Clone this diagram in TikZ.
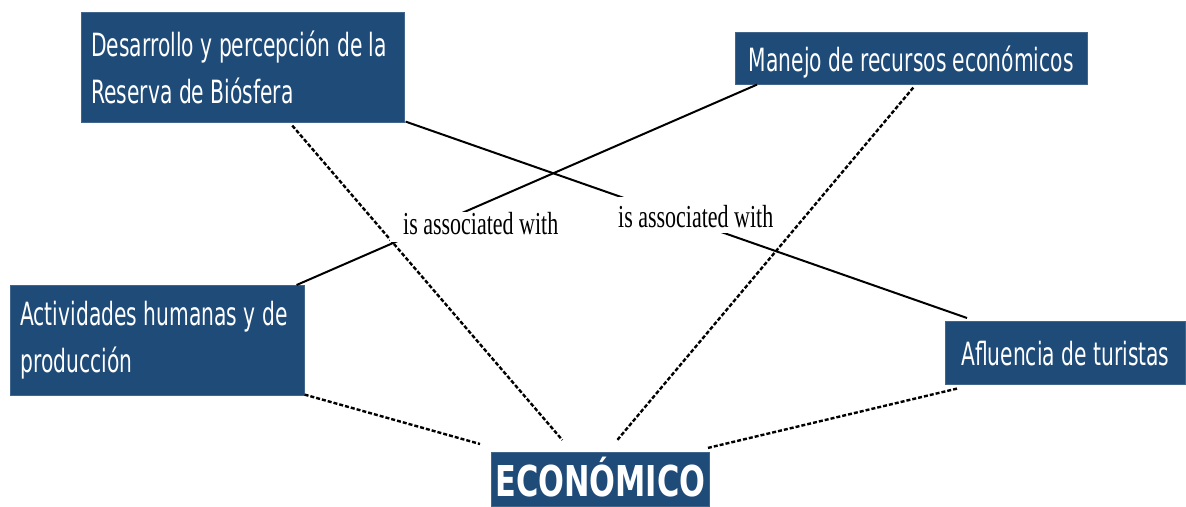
\documentclass[tikz,border=0pt]{standalone}
\usepackage{fontspec}
\newfontfamily\boxfont[FakeStretch=0.633]{DejaVu Sans}
\newfontfamily\ecofont[FakeStretch=0.716]{DejaVu Sans}
\newfontfamily\labfont[FakeStretch=0.687]{Liberation Serif}
\usetikzlibrary{calc}
\definecolor{boxblue}{RGB}{31,75,121}
\begin{document}
\begin{tikzpicture}[x=1pt,y=-1pt,
  concept/.style={draw=boxblue!85!white, line width=0.6pt, fill=boxblue, text=white,
    anchor=north west, inner ysep=0pt, inner xsep=10pt,
    font=\boxfont\fontsize{32}{47}\selectfont},
  twoline/.style={align=flush left},
  ecobox/.style={draw=boxblue!85!white, line width=0.6pt, fill=boxblue, text=white,
    anchor=north west, inner sep=0pt,
    font=\ecofont\bfseries\fontsize{42.5}{50}\selectfont},
  linkphrase/.style={fill=white, anchor=base west, inner ysep=0pt,
    font=\labfont\fontsize{32}{38}\selectfont},
  assoc/.style={line width=2pt},
  dotline/.style={line width=2.4pt, dash pattern=on 4pt off 2pt}
]
\fill[white] (0,0) rectangle (1186,506);
\useasboundingbox (0,0) rectangle (1186,506);

% concepts
\node[concept, twoline, minimum width=323pt, minimum height=110pt, text width=303pt] (des) at (81,12)
  {\mbox{Desarrollo y percepción de la}\\\mbox{Reserva de Biósfera}};
\node[concept, minimum width=352pt, minimum height=52pt, text height=27pt, text depth=0pt] (man) at (735,32)
  {Manejo de recursos económicos};
\node[concept, twoline, minimum width=294pt, minimum height=110pt, text width=274pt] (act) at (10,285)
  {\mbox{Actividades humanas y de}\\\mbox{producción}};
\node[concept, minimum width=240pt, minimum height=63pt, text height=25pt, text depth=0pt] (afl) at (945,321)
  {Afluencia de turistas};
\node[ecobox, minimum width=218pt, minimum height=54pt, text height=34pt, text depth=0pt] (eco) at (491,452)
  {ECONÓMICO};

% solid association lines
\draw[assoc] ([xshift=-8pt]act.north east) -- ([xshift=22pt]man.south west);
\draw[assoc] ([xshift=1pt,yshift=1pt]des.south east) -- ([xshift=22pt,yshift=3pt]afl.north west);

% dotted lines to ECONOMICO
\draw[dotline] ([xshift=49.5pt,yshift=-3pt]des.south) -- ([xshift=-38pt,yshift=12pt]eco.north);
\draw[dotline] ([xshift=2pt,yshift=-3pt]man.south) -- ([xshift=17pt,yshift=12pt]eco.north);
\draw[dotline] ([yshift=1pt]act.south east) -- ([xshift=-11pt,yshift=8pt]eco.north west);
\draw[dotline] ([xshift=12pt,yshift=-4pt]afl.south west) -- ([xshift=-2pt,yshift=4pt]eco.north east);

% linking phrases
\node[linkphrase, inner xsep=13pt, text height=22pt, text depth=8pt] (lab1) at (390,234) {is associated with};
\node[linkphrase, inner xsep=10pt, text height=30pt, text depth=6pt] (lab2) at (608,227) {is associated with};
\end{tikzpicture}
\end{document}
